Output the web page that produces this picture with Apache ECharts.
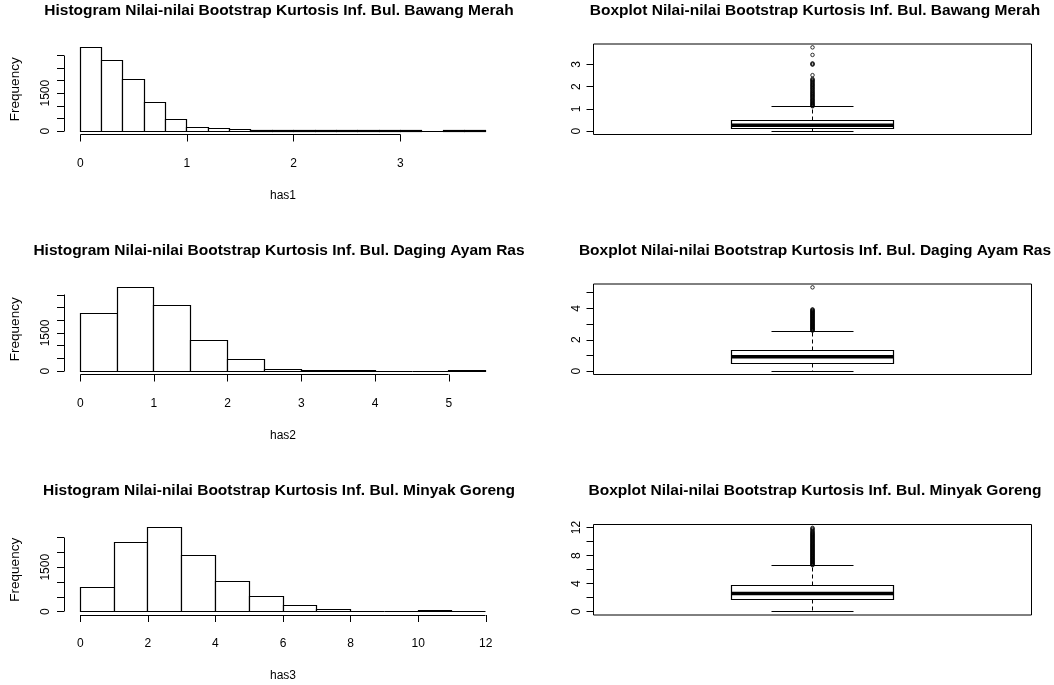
<!DOCTYPE html>
<html>
<head>
<meta charset="utf-8">
<script src="https://cdn.jsdelivr.net/npm/echarts@6/dist/echarts.min.js"></script>
<style>
html,body{margin:0;padding:0;background:#fff;}
#chart{width:1054px;height:685px;}
</style>
</head>
<body>
<div id="chart"></div>
<script>
// ---------------- data ----------------
const hist1Title = 'Histogram Nilai-nilai Bootstrap Kurtosis Inf. Bul. Bawang Merah';
const hist2Title = 'Histogram Nilai-nilai Bootstrap Kurtosis Inf. Bul. Daging Ayam Ras';
const hist3Title = 'Histogram Nilai-nilai Bootstrap Kurtosis Inf. Bul. Minyak Goreng';
const box1Title = 'Boxplot Nilai-nilai Bootstrap Kurtosis Inf. Bul. Bawang Merah';
const box2Title = 'Boxplot Nilai-nilai Bootstrap Kurtosis Inf. Bul. Daging Ayam Ras';
const box3Title = 'Boxplot Nilai-nilai Bootstrap Kurtosis Inf. Bul. Minyak Goreng';
const xNames = ['has1', 'has2', 'has3'];
const yName = 'Frequency';

const hist1Breaks = [0,0.2,0.4,0.6,0.8,1.0,1.2,1.4,1.6,1.8,2.0,2.2,2.4,2.6,2.8,3.0,3.2,3.4,3.6,3.8];
const hist1Counts = [3307,2795,2024,1118,449,157,94,55,18,10,24,20,22,6,9,16,5,12,14];
const hist2Breaks = [0,0.5,1.0,1.5,2.0,2.5,3.0,3.5,4.0,4.5,5.0,5.5];
const hist2Counts = [2270,3295,2570,1200,475,80,6,40,4,3,38];
const hist3Breaks = [0,1,2,3,4,5,6,7,8,9,10,11,12];
const hist3Counts = [807,2352,2830,1909,1034,500,193,68,12,8,22,18];

const hist1XTicks = [0,1,2,3];
const hist2XTicks = [0,1,2,3,4,5];
const hist3XTicks = [0,2,4,6,8,10,12];
const hist1YTicks = [0,500,1000,1500,2000,2500,3000];
const hist2YTicks = [0,500,1000,1500,2000,2500,3000];
const hist3YTicks = [0,500,1000,1500,2000,2500];
const hist1YLabels = [0,1500];
const hist2YLabels = [0,1500];
const hist3YLabels = [0,1500];

// [lower whisker, Q1, median, Q3, upper whisker]
const box1Stats = [0.0, 0.11, 0.27, 0.50, 1.10];
const box2Stats = [0.0, 0.50, 0.91, 1.32, 2.55];
const box3Stats = [0.0, 1.72, 2.60, 3.72, 6.55];
const box1Outliers = [1.12,1.14,1.17,1.2,1.23,1.25,1.29,1.32,1.36,1.39,1.42,1.46,1.5,1.53,1.57,1.6,1.64,1.67,1.71,1.74,1.78,1.82,1.85,1.9,1.93,1.97,2.01,2.05,2.08,2.12,2.16,2.2,2.24,2.28,2.31,2.35,2.52,2.99,3.02,3.05,3.43,3.77];
const box2Outliers = [2.58,2.61,2.64,2.68,2.71,2.74,2.78,2.81,2.85,2.88,2.92,2.95,2.99,3.02,3.06,3.1,3.13,3.17,3.2,3.24,3.28,3.31,3.35,3.39,3.42,3.46,3.5,3.53,3.57,3.61,3.64,3.68,3.72,3.75,3.79,3.83,3.86,3.9,3.94,5.34];
const box3Outliers = [6.62,6.7,6.78,6.86,6.95,7.03,7.1,7.2,7.28,7.37,7.45,7.52,7.62,7.7,7.8,7.88,7.96,8.05,8.14,8.22,8.3,8.4,8.48,8.57,8.66,8.74,8.83,8.92,9.0,9.1,9.18,9.27,9.36,9.45,9.53,9.62,9.72,9.8,9.9,10.0,10.08,10.17,10.27,10.36,10.45,10.55,10.64,10.72,10.83,10.92,11.0,11.1,11.2,11.3,11.42,11.55,11.7,11.83,11.95];
const box1YTicks = [0,1,2,3];
const box1YLabels = [0,1,2,3];
const box2YTicks = [0,1,2,3,4,5];
const box2YLabels = [0,2,4];
const box3YTicks = [0,2,4,6,8,10,12];
const box3YLabels = [0,4,8,12];

// ---------------- layout / style ----------------
const FONT = '"Liberation Sans", Arial, Helvetica, sans-serif';
const HIST_LEFT = 64, BOX_LEFT = 593.5, PLOT_W = 438, PLOT_H = 90.5;
const ROW_TOPS = [44, 284, 524.5];
const TITLE_Y = [11, 251, 491];
const HIST_TITLE_X = 279, BOX_TITLE_X = 815;
const BOX_HALF = 0.185, CAP_HALF = 0.0925;

const hists = [
  {title: hist1Title, breaks: hist1Breaks, counts: hist1Counts, xTicks: hist1XTicks, yTicks: hist1YTicks, yLabels: hist1YLabels},
  {title: hist2Title, breaks: hist2Breaks, counts: hist2Counts, xTicks: hist2XTicks, yTicks: hist2YTicks, yLabels: hist2YLabels},
  {title: hist3Title, breaks: hist3Breaks, counts: hist3Counts, xTicks: hist3XTicks, yTicks: hist3YTicks, yLabels: hist3YLabels}
];
const boxes = [
  {title: box1Title, stats: box1Stats, outliers: box1Outliers, yTicks: box1YTicks, yLabels: box1YLabels},
  {title: box2Title, stats: box2Stats, outliers: box2Outliers, yTicks: box2YTicks, yLabels: box2YLabels},
  {title: box3Title, stats: box3Stats, outliers: box3Outliers, yTicks: box3YTicks, yLabels: box3YLabels}
];

const txt = {color: '#000', fontFamily: FONT, fontSize: 12};
const titleFont = 'bold 15.5px ' + FONT;
const grids = [], xAxes = [], yAxes = [], series = [], graphics = [];
const crisp = v => Math.round(v - 0.5) + 0.5;

hists.forEach((h, i) => {
  const b0 = h.breaks[0], b1 = h.breaks[h.breaks.length - 1];
  const xr = b1 - b0;
  const xmin = b0 - 0.04 * xr, xmax = b1 + 0.04 * xr;
  const cmax = Math.max(...h.counts);
  const ymin = -0.04 * cmax, ymax = 1.04 * cmax;
  const gi = grids.length;
  grids.push({left: HIST_LEFT, top: ROW_TOPS[i], width: PLOT_W, height: PLOT_H, show: false});
  xAxes.push({
    gridIndex: gi, type: 'value', min: xmin, max: xmax, position: 'bottom',
    axisLine: {show: false, onZero: false}, splitLine: {show: false},
    axisTick: {show: true, length: 7, customValues: h.xTicks, lineStyle: {color: '#000', width: 1}},
    axisLabel: Object.assign({show: true, customValues: h.xTicks, margin: 23, formatter: v => String(v)}, txt),
    name: xNames[i], nameLocation: 'middle', nameGap: 55, nameTextStyle: txt
  });
  yAxes.push({
    gridIndex: gi, type: 'value', min: ymin, max: ymax, position: 'left',
    axisLine: {show: false, onZero: false}, splitLine: {show: false},
    axisTick: {show: true, length: 7, customValues: h.yTicks, lineStyle: {color: '#000', width: 1}},
    axisLabel: Object.assign({show: true, customValues: h.yLabels, rotate: 90, margin: 12, formatter: v => String(v)}, txt),
    name: yName, nameLocation: 'middle', nameRotate: 90, nameGap: 42,
    nameTextStyle: Object.assign({}, txt, {fontSize: 13.5})
  });
  series.push({
    type: 'custom', xAxisIndex: gi, yAxisIndex: gi, clip: false, silent: true,
    dimensions: ['x0', 'x1', 'count'],
    encode: {x: [0, 1], y: 2},
    data: h.counts.map((c, k) => [h.breaks[k], h.breaks[k + 1], c]),
    renderItem: function (params, api) {
      const p0 = api.coord([api.value(0), 0]);
      const p1 = api.coord([api.value(1), api.value(2)]);
      const x0 = crisp(p0[0]), x1 = crisp(p1[0]);
      const yb = crisp(p0[1]), yt = crisp(p1[1]);
      return {type: 'rect', shape: {x: x0, y: yt, width: x1 - x0, height: yb - yt},
        style: {fill: '#fff', stroke: '#000', lineWidth: 1.2}};
    }
  });
  const xt = h.xTicks, yt = h.yTicks;
  series.push({
    type: 'custom', xAxisIndex: gi, yAxisIndex: gi, clip: false, silent: true,
    data: [[xt[0], yt[0]]],
    renderItem: function (params, api) {
      const a = api.coord([xt[0], ymin]), b = api.coord([xt[xt.length - 1], ymin]);
      const c = api.coord([xmin, yt[0]]), d = api.coord([xmin, yt[yt.length - 1]]);
      return {type: 'group', children: [
        {type: 'line', shape: {x1: crisp(a[0]), y1: crisp(a[1]), x2: crisp(b[0]), y2: crisp(b[1])}, style: {stroke: '#000', lineWidth: 1}},
        {type: 'line', shape: {x1: crisp(c[0]), y1: crisp(c[1]), x2: crisp(d[0]), y2: crisp(d[1])}, style: {stroke: '#000', lineWidth: 1}}
      ]};
    }
  });
  graphics.push({type: 'text', x: HIST_TITLE_X, y: TITLE_Y[i],
    style: {text: h.title, fill: '#000', font: titleFont, textAlign: 'center', textVerticalAlign: 'middle'}});
});

boxes.forEach((bx, i) => {
  const lo = Math.min(bx.stats[0], ...bx.outliers);
  const hi = Math.max(bx.stats[4], ...bx.outliers);
  const r = hi - lo;
  const ymin = lo - 0.04 * r, ymax = hi + 0.04 * r;
  const gi = grids.length;
  grids.push({left: BOX_LEFT, top: ROW_TOPS[i], width: PLOT_W, height: PLOT_H, show: true,
    borderColor: '#000', borderWidth: 1, backgroundColor: 'transparent'});
  xAxes.push({gridIndex: gi, type: 'value', min: 0.5, max: 1.5, show: false});
  yAxes.push({
    gridIndex: gi, type: 'value', min: ymin, max: ymax, position: 'left',
    axisLine: {show: false, onZero: false}, splitLine: {show: false},
    axisTick: {show: true, length: 7, customValues: bx.yTicks, lineStyle: {color: '#000', width: 1}},
    axisLabel: Object.assign({show: true, customValues: bx.yLabels, rotate: 90, margin: 11, formatter: v => String(v)}, txt)
  });
  series.push({
    type: 'custom', xAxisIndex: gi, yAxisIndex: gi, clip: false, silent: true,
    dimensions: ['x', 'lw', 'q1', 'med', 'q3', 'uw'],
    encode: {x: 0, y: [1, 2, 3, 4, 5]},
    data: [[1].concat(bx.stats)],
    renderItem: function (params, api) {
      const cx = api.value(0);
      const lw = api.value(1), q1 = api.value(2), med = api.value(3), q3 = api.value(4), uw = api.value(5);
      const P = (x, y) => api.coord([x, y]);
      const c = crisp(P(cx, 0)[0]);
      const bl = crisp(P(cx - BOX_HALF, 0)[0]), br = crisp(P(cx + BOX_HALF, 0)[0]);
      const cl = crisp(P(cx - CAP_HALF, 0)[0]), cr = crisp(P(cx + CAP_HALF, 0)[0]);
      const yLw = crisp(P(cx, lw)[1]), yQ1 = crisp(P(cx, q1)[1]), yMed = P(cx, med)[1];
      const yQ3 = crisp(P(cx, q3)[1]), yUw = crisp(P(cx, uw)[1]);
      const s = {stroke: '#000', lineWidth: 1.2};
      const dash = {stroke: '#000', lineWidth: 1, lineDash: [4, 3]};
      return {type: 'group', children: [
        {type: 'line', shape: {x1: c, y1: yQ3, x2: c, y2: yUw}, style: dash},
        {type: 'line', shape: {x1: c, y1: yQ1, x2: c, y2: yLw}, style: dash},
        {type: 'line', shape: {x1: cl, y1: yUw, x2: cr, y2: yUw}, style: s},
        {type: 'line', shape: {x1: cl, y1: yLw, x2: cr, y2: yLw}, style: s},
        {type: 'rect', shape: {x: bl, y: yQ3, width: br - bl, height: yQ1 - yQ3}, style: {fill: '#fff', stroke: '#000', lineWidth: 1.2}},
        {type: 'line', shape: {x1: bl, y1: yMed, x2: br, y2: yMed}, style: {stroke: '#000', lineWidth: 3.5}}
      ]};
    }
  });
  series.push({
    type: 'scatter', xAxisIndex: gi, yAxisIndex: gi, silent: true,
    symbol: 'circle', symbolSize: 3.5,
    itemStyle: {color: 'rgba(0,0,0,0)', borderColor: '#000', borderWidth: 1},
    data: bx.outliers.map(v => [1, v])
  });
  graphics.push({type: 'text', x: BOX_TITLE_X, y: TITLE_Y[i],
    style: {text: bx.title, fill: '#000', font: titleFont, textAlign: 'center', textVerticalAlign: 'middle'}});
});

const chart = echarts.init(document.getElementById('chart'), null, {renderer: 'canvas'});
chart.setOption({
  backgroundColor: '#fff',
  animation: false,
  grid: grids,
  xAxis: xAxes,
  yAxis: yAxes,
  series: series,
  graphic: graphics
});
</script>
</body>
</html>
